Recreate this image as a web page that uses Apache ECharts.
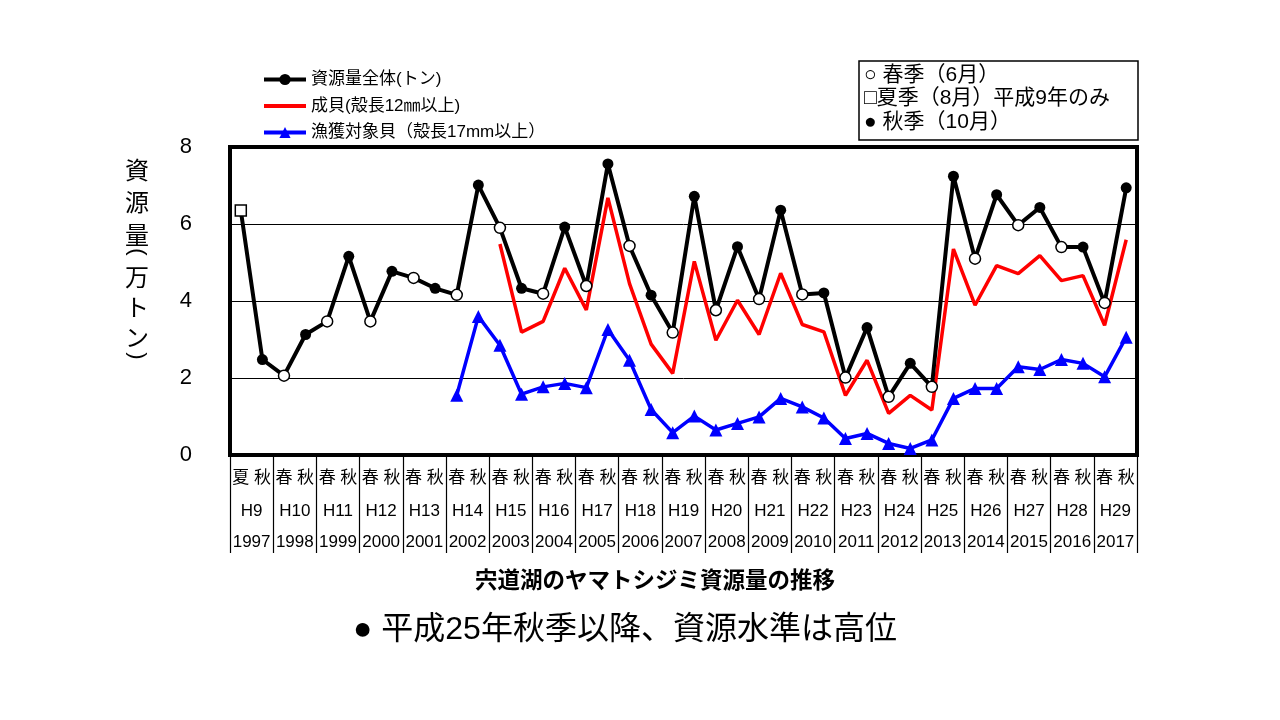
<!DOCTYPE html>
<html><head><meta charset="utf-8">
<script src="https://cdn.jsdelivr.net/npm/echarts@6/dist/echarts.min.js"></script>
<style>html,body{margin:0;padding:0;background:#fff}#c{width:1280px;height:720px}</style>
</head><body><div id="c"></div>
<script>
// ---- data ----
const seasons = ['夏','秋'].concat(Array.from({length:20}, () => ['春','秋']).flat());
const eraYears = ['H9','H10','H11','H12','H13','H14','H15','H16','H17','H18','H19','H20','H21','H22','H23','H24','H25','H26','H27','H28','H29'];
const westernYears = ['1997','1998','1999','2000','2001','2002','2003','2004','2005','2006','2007','2008','2009','2010','2011','2012','2013','2014','2015','2016','2017'];
const totalStock = [6.35, 2.48, 2.06, 3.13, 3.47, 5.16, 3.47, 4.77, 4.60, 4.33, 4.16, 7.01, 5.90, 4.33, 4.19, 5.92, 4.39, 7.56, 5.43, 4.15, 3.18, 6.72, 3.76, 5.41, 4.05, 6.36, 4.17, 4.21, 2.01, 3.31, 1.51, 2.38, 1.77, 7.24, 5.10, 6.76, 5.97, 6.43, 5.40, 5.40, 3.95, 6.94];
const adultStock = [null,null,null,null,null,null,null,null,null,null,null,null,
  5.48, 3.19, 3.47, 4.85, 3.77, 6.68, 4.45, 2.88, 2.12, 5.03, 2.98, 4.02, 3.13, 4.72, 3.39, 3.20, 1.55, 2.46, 1.08, 1.55, 1.17, 5.35, 3.89, 4.92, 4.71, 5.18, 4.53, 4.66, 3.37, 5.59];
const harvestStock = [null,null,null,null,null,null,null,null,null,null,
  1.55, 3.60, 2.85, 1.58, 1.77, 1.86, 1.75, 3.26, 2.46, 1.18, 0.58, 1.01, 0.65, 0.82, 0.99, 1.47, 1.25, 0.96, 0.43, 0.56, 0.30, 0.17, 0.39, 1.47, 1.73, 1.73, 2.29, 2.22, 2.48, 2.38, 2.03, 3.06];
const seriesNames = ['資源量全体(トン)', '成貝(殻長12㎜以上)', '漁獲対象貝（殻長17mm以上）'];
const seasonNotes = ['○ 春季（6月）', '□夏季（8月）平成9年のみ', '● 秋季（10月）'];
const yAxisNameChars = ['資','源','量','(','万','ト','ン',')'];
const titleText = '宍道湖のヤマトシジミ資源量の推移';
const noteText = '● 平成25年秋季以降、資源水準は高位';

// ---- layout ----
const FF = "'Liberation Sans', 'Noto Sans CJK JP', sans-serif";
const yNamePos = [172, 204, 237, 252, 279, 309, 339, 356];

const totalData = totalStock.map((v, i) => {
  const s = seasons[i];
  if (s === '夏') return {value: v, symbol: 'rect', symbolSize: 11, itemStyle: {color: '#fff', borderColor: '#000', borderWidth: 1.5}};
  if (s === '春') return {value: v, symbol: 'circle', symbolSize: 11, itemStyle: {color: '#fff', borderColor: '#000', borderWidth: 1.5}};
  return {value: v};
});

const graphic = [];
yAxisNameChars.forEach((ch, i) => {
  const isParen = (ch === '(' || ch === ')');
  graphic.push({type: 'text', x: 137, y: yNamePos[i], rotation: isParen ? -Math.PI / 2 : 0,
    style: {text: ch, font: `${isParen ? 22 : 24}px ${FF}`, fill: '#000', align: 'center', verticalAlign: 'middle'}});
});
graphic.push({type: 'rect', shape: {x: 859, y: 61, width: 279, height: 79},
  style: {fill: '#fff', stroke: '#000', lineWidth: 1.5}});
[75, 98, 122].forEach((yy, i) => {
  graphic.push({type: 'text', x: 864, y: yy,
    style: {text: seasonNotes[i], font: `21px ${FF}`, fill: '#000', align: 'left', verticalAlign: 'middle'}});
});
graphic.push({type: 'text', x: 655, y: 582,
  style: {text: titleText, font: `bold 22.5px ${FF}`, fill: '#000', align: 'center', verticalAlign: 'middle'}});
graphic.push({type: 'text', x: 625, y: 630,
  style: {text: noteText, font: `32px ${FF}`, fill: '#000', align: 'center', verticalAlign: 'middle'}});

const chart = echarts.init(document.getElementById('c'), null, {renderer: 'canvas'});
chart.setOption({
  animation: false,
  backgroundColor: '#fff',
  textStyle: {fontFamily: FF},
  legend: {
    orient: 'vertical', left: 257, top: 66, itemWidth: 42, itemHeight: 14, itemGap: 9.5,
    textStyle: {fontSize: 17, color: '#000', fontFamily: FF},
    lineStyle: {width: 4},
    data: [
      {name: seriesNames[0]},
      {name: seriesNames[1], itemStyle: {color: 'rgba(0,0,0,0)', borderColor: 'rgba(0,0,0,0)', borderWidth: 0}},
      {name: seriesNames[2]}
    ]
  },
  grid: [
    {left: 230, right: 143, top: 147, bottom: 265, show: true, borderColor: '#000', borderWidth: 4, backgroundColor: 'transparent'},
    {left: 230, right: 143, top: 147, bottom: 265, show: false}
  ],
  xAxis: [
    {type: 'category', gridIndex: 0, data: seasons, boundaryGap: true,
      axisLine: {show: false}, axisTick: {show: false},
      axisLabel: {interval: 0, fontSize: 17, color: '#000', margin: 15, fontFamily: FF}},
    {type: 'category', gridIndex: 1, data: eraYears, boundaryGap: true, position: 'bottom',
      axisLine: {show: false},
      axisTick: {show: true, interval: 0, length: 98, lineStyle: {color: '#000', width: 1.2}},
      axisLabel: {interval: 0, margin: 41, color: '#000',
        formatter: (v, i) => `{a|${v}}\n{b|${westernYears[i]}}`,
        rich: {a: {fontSize: 17, lineHeight: 31, fontFamily: FF, color: '#000'},
               b: {fontSize: 17, lineHeight: 31, fontFamily: FF, color: '#000'}}}}
  ],
  yAxis: [
    {type: 'value', gridIndex: 0, min: 0, max: 8, interval: 2,
      axisLine: {show: false}, axisTick: {show: false},
      axisLabel: {fontSize: 22, color: '#000', margin: 38, fontFamily: FF},
      splitLine: {show: true, lineStyle: {color: '#000', width: 1}}},
    {type: 'value', gridIndex: 1, min: 0, max: 8, show: false}
  ],
  graphic: graphic,
  series: [
    {name: seriesNames[0], type: 'line', xAxisIndex: 0, yAxisIndex: 0, data: totalData, z: 5,
      symbol: 'circle', symbolSize: 11, showAllSymbol: true,
      lineStyle: {color: '#000', width: 4}, itemStyle: {color: '#000'}},
    {name: seriesNames[1], type: 'line', xAxisIndex: 0, yAxisIndex: 0, data: adultStock, z: 3,
      symbol: 'none', lineStyle: {color: '#ff0000', width: 3.5}, itemStyle: {color: '#ff0000'}},
    {name: seriesNames[2], type: 'line', xAxisIndex: 0, yAxisIndex: 0, data: harvestStock, z: 4,
      symbol: 'triangle', symbolSize: 13, showAllSymbol: true,
      lineStyle: {color: '#0000ff', width: 3.5}, itemStyle: {color: '#0000ff'}}
  ]
});
</script></body></html>
